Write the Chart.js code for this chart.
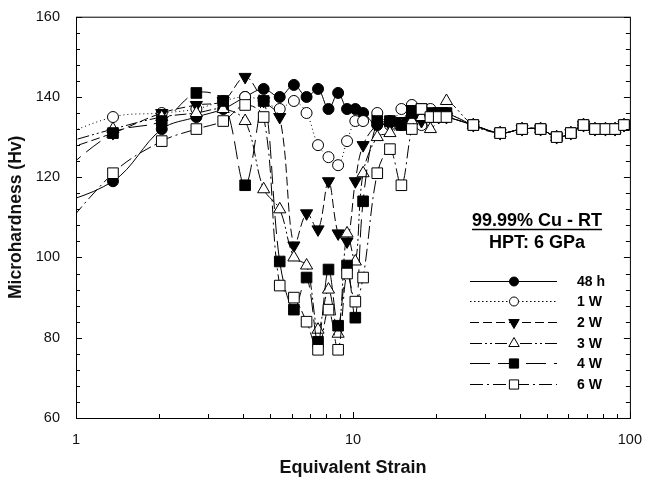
<!DOCTYPE html>
<html lang="en">
<head>
  <meta charset="UTF-8">
  <title>Microhardness vs Equivalent Strain - 99.99% Cu</title>
  <style>
    body {
      margin: 0;
      padding: 0;
      background-color: #fff;
    }
    .chart-box {
      position: relative;
      width: 647px;
      height: 483px;
    }
  </style>
  <script src="https://cdn.jsdelivr.net/npm/chart.js"></script>
</head>
<body>
  <div class="chart-box">
    <canvas id="hardnessChart"></canvas>
  </div>

  <script>
    // equivalent strain at each measuring position (first one lies left of the axis)
    const strain = [0.68, 1.36, 2.04, 2.72, 3.40, 4.08, 4.76, 5.44, 6.12, 6.80, 7.48, 8.16,
      8.84, 9.52, 10.2, 10.88, 12.24, 13.6, 14.96, 16.32, 17.68, 19.04, 20.4, 21.76,
      27.2, 34.0, 40.8, 47.6, 54.4, 61.2, 68.0, 74.8, 81.6, 88.4, 95.2];

    const seriesNames = ['48 h', '1 W', '2 W', '3 W', '4 W', '6 W'];

    const hv48h = [111, 119, 132, 135, 137, 140, 142, 140, 143, 140, 142, 137,
      141, 137, 137, 136, 133, 134, 133, 135, 134, 135, 135, 135,
      133, 131, 132, 132, 130, 131, 133, 132, 132, 132, 133];
    const hv1w = [127, 135, 136, 137, 139, 140, 139, 137, 139, 136, 128, 125,
      123, 129, 134, 134, 136, 133, 137, 138, 133, 137, 136, 136,
      133, 131, 132, 132, 130, 131, 133, 132, 132, 132, 133];
    const hv2w = [124, 131, 136, 138, 139, 145, 139, 135, 103, 111, 107, 119,
      106, 104, 119, 128, 133, 133, 134, 137, 134, 135, 135, 135,
      133, 131, 132, 132, 130, 131, 133, 132, 132, 132, 133];
    const hv3w = [126, 132, 135, 136, 137, 134, 117, 112, 100, 98, 82, 92,
      81, 106, 99, 121, 130, 131, 133, 134, 135, 132, 135, 139,
      133, 131, 132, 132, 130, 131, 133, 132, 132, 132, 133];
    const hv4w = [114, 131, 134, 141, 139, 118, 139, 99, 87, 95, 79, 97,
      83, 98, 85, 114, 134, 134, 133, 136, 137, 136, 136, 136,
      133, 131, 132, 132, 130, 131, 133, 132, 132, 132, 133];
    const hv6w = [97, 121, 129, 132, 134, 138, 135, 93, 90, 84, 77, 87,
      77, 96, 89, 95, 121, 127, 118, 132, 137, 135, 135, 135,
      133, 131, 132, 132, 130, 131, 133, 132, 132, 132, 133];

    const xTickLabels = [1, 10, 100];
    const yTickLabels = [60, 80, 100, 120, 140, 160];

    const FONT = 'Arial, "Liberation Sans", sans-serif';

    // marker + line style per series
    const styles = [
      { shape: 'circle',   fill: '#000', radius: 5.5, dash: [],                 legendDash: [] },
      { shape: 'circle',   fill: '#fff', radius: 5.5, dash: [1, 3],             legendDash: [1.5, 2.5] },
      { shape: 'triDown',  fill: '#000', radius: 7,   dash: [9, 4],             legendDash: [9, 4] },
      { shape: 'triangle', fill: '#fff', radius: 7,   dash: [12, 3, 2, 3, 2, 3], legendDash: [12, 3, 2, 3, 2, 3] },
      { shape: 'rect',     fill: '#000', radius: 7.5, dash: [18, 7],            legendDash: [20, 8] },
      { shape: 'rect',     fill: '#fff', radius: 7.5, dash: [13, 4, 2, 4],      legendDash: [13, 4, 2, 4] }
    ];
    const seriesValues = [hv48h, hv1w, hv2w, hv3w, hv4w, hv6w];

    const datasets = seriesValues.map((vals, i) => {
      const st = styles[i];
      return {
        label: seriesNames[i],
        data: strain.map((s, k) => ({ x: s, y: vals[k] })),
        borderColor: '#000',
        borderWidth: 1,
        borderDash: st.dash,
        tension: 0.35,
        pointStyle: st.shape === 'circle' ? 'circle' : (st.shape === 'rect' ? 'rect' : 'triangle'),
        rotation: st.shape === 'triDown' ? 180 : 0,
        pointRadius: st.radius,
        pointBackgroundColor: st.fill,
        pointBorderColor: '#000',
        pointBorderWidth: 1,
        order: 5 - i  // 6 W ends up drawn on top
      };
    });

    function drawMarker(ctx, shape, x, y, r, fill) {
      ctx.beginPath();
      if (shape === 'circle') {
        ctx.arc(x, y, r, 0, Math.PI * 2);
      } else if (shape === 'rect') {
        const h = r * Math.SQRT1_2;
        ctx.rect(x - h, y - h, 2 * h, 2 * h);
      } else {
        const dir = shape === 'triDown' ? -1 : 1;
        ctx.moveTo(x, y - dir * r);
        ctx.lineTo(x + r * 0.866, y + dir * r * 0.5);
        ctx.lineTo(x - r * 0.866, y + dir * r * 0.5);
        ctx.closePath();
      }
      ctx.fillStyle = fill;
      ctx.fill();
      ctx.setLineDash([]);
      ctx.stroke();
    }

    // frame plus inward pointing ticks
    const frameTicks = {
      id: 'frameTicks',
      afterDraw(chart) {
        const { ctx, chartArea: a, scales: { x, y } } = chart;
        ctx.save();
        ctx.strokeStyle = '#000';
        ctx.lineWidth = 1;
        ctx.setLineDash([]);
        ctx.strokeRect(a.left + 0.5, a.top + 0.5, a.right - a.left, a.bottom - a.top);

        ctx.beginPath();
        for (let v = 60; v <= 160; v += 4) {
          const py = Math.round(y.getPixelForValue(v)) + 0.5;
          const len = v % 20 === 0 ? 6 : 4;
          ctx.moveTo(a.left, py); ctx.lineTo(a.left + len, py);
          ctx.moveTo(a.right, py); ctx.lineTo(a.right - len, py);
        }
        [1, 10].forEach(dec => {
          for (let m = 1; m <= 10; m++) {
            const px = Math.round(x.getPixelForValue(m * dec)) + 0.5;
            const len = (m === 1 || m === 10) ? 6 : 4;
            ctx.moveTo(px, a.bottom); ctx.lineTo(px, a.bottom - len);
          }
        });
        ctx.stroke();
        ctx.restore();
      }
    };

    // legend with a two line heading, no box
    const legendBlock = {
      id: 'legendBlock',
      afterDraw(chart) {
        const ctx = chart.ctx;
        ctx.save();
        ctx.fillStyle = '#000';
        ctx.strokeStyle = '#000';
        ctx.textAlign = 'center';
        ctx.textBaseline = 'alphabetic';
        ctx.font = 'bold 18px ' + FONT;
        const head = '99.99% Cu - RT';
        ctx.fillText(head, 537, 226);
        const w = ctx.measureText(head).width;
        ctx.lineWidth = 1.5;
        ctx.beginPath();
        ctx.moveTo(537 - w / 2, 229.5);
        ctx.lineTo(537 + w / 2, 229.5);
        ctx.stroke();
        ctx.fillText('HPT: 6 GPa', 537, 248);

        ctx.lineWidth = 1;
        ctx.textAlign = 'left';
        ctx.textBaseline = 'middle';
        ctx.font = 'bold 14px ' + FONT;
        styles.forEach((st, i) => {
          const yy = Math.round(280.5 + i * 20.7) + 0.5;
          ctx.setLineDash(st.legendDash);
          ctx.beginPath();
          ctx.moveTo(470, yy);
          ctx.lineTo(557, yy);
          ctx.stroke();
          drawMarker(ctx, st.shape, 514, yy, st.radius - 1, st.fill);
          ctx.fillStyle = '#000';
          ctx.fillText(seriesNames[i], 577, yy + 1);
        });
        ctx.restore();
      }
    };

    const ctx = document.getElementById('hardnessChart').getContext('2d');
    new Chart(ctx, {
      type: 'line',
      data: { datasets: datasets },
      options: {
        responsive: true,
        maintainAspectRatio: false,
        animation: false,
        layout: { padding: { top: 16, right: 15, left: 0, bottom: 0 } },
        plugins: {
          legend: { display: false },
          tooltip: { enabled: false }
        },
        scales: {
          x: {
            type: 'logarithmic',
            min: 1,
            max: 100,
            afterBuildTicks: s => { s.ticks = xTickLabels.map(v => ({ value: v })); },
            afterFit: s => { s.height = 65; },
            grid: { display: false },
            border: { display: false },
            ticks: {
              padding: 5,
              color: '#111',
              font: { family: FONT, size: 14.5 },
              callback: v => String(v),
              maxRotation: 0
            },
            title: {
              display: true,
              text: 'Equivalent Strain',
              color: '#111',
              font: { family: FONT, size: 18, weight: 'bold' },
              padding: { top: 0, bottom: 4 }
            }
          },
          y: {
            min: 60,
            max: 160,
            afterBuildTicks: s => { s.ticks = yTickLabels.map(v => ({ value: v })); },
            afterFit: s => { s.width = 76; },
            grid: { display: false },
            border: { display: false },
            ticks: {
              padding: 8,
              color: '#111',
              font: { family: FONT, size: 14.5 }
            },
            title: {
              display: true,
              text: 'Microhardness (Hv)',
              color: '#111',
              font: { family: FONT, size: 17.5, weight: 'bold' },
              padding: { top: 6, bottom: 0 }
            }
          }
        }
      },
      plugins: [frameTicks, legendBlock]
    });
  </script>
</body>
</html>
